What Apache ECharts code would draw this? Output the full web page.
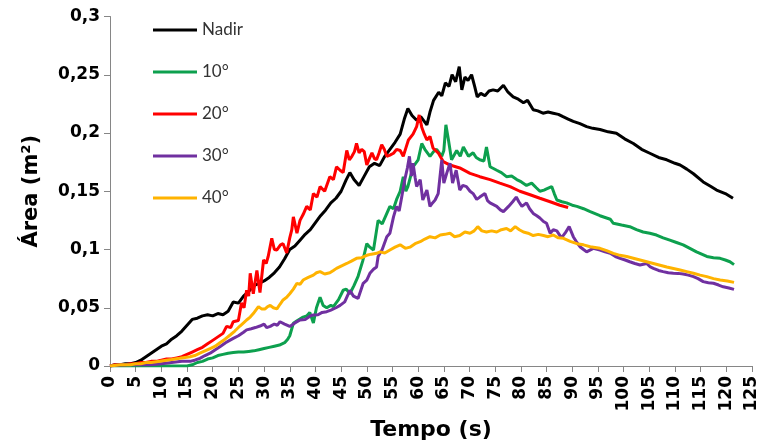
<!DOCTYPE html>
<html><head><meta charset="utf-8">
<script src="https://cdn.jsdelivr.net/npm/echarts@6/dist/echarts.min.js"></script>
<style>html,body{margin:0;padding:0;background:#fff}#c{width:761px;height:441px}</style>
</head><body><div id="c"></div>
<script>
const seriesNames = ['Nadir', '10°', '20°', '30°', '40°'];
const seriesColors = ['#000000', '#0DA04E', '#FF0000', '#7030A0', '#FFB300'];
const xTicks = {min: 0, max: 125, interval: 5};
const yTicks = {min: 0, max: 0.3, interval: 0.05};

const nadir = [[0,0],[1,0.001],[2,0.001],[3,0.002],[4,0.002],[5,0.003],[6,0.005],[7,0.008],[8,0.011],[9,0.014],[10,0.017],[11,0.019],[12,0.023],[13,0.026],[14,0.030],[15,0.035],[16,0.040],[17,0.041],[18,0.043],[19,0.044],[20,0.043],[21,0.045],[22,0.044],[23,0.047],[24,0.055],[25,0.054],[26,0.060],[27,0.064],[28,0.069],[29,0.071],[30,0.073],[31,0.076],[32,0.080],[33,0.085],[34,0.092],[35,0.100],[36,0.103],[37,0.108],[38,0.113],[39,0.117],[40,0.123],[41,0.129],[42,0.134],[43,0.140],[44,0.144],[45,0.150],[46,0.160],[46.7,0.166],[47.5,0.160],[48.5,0.155],[49.5,0.163],[50.5,0.171],[51.5,0.174],[52.5,0.172],[53.5,0.180],[54.5,0.186],[55.5,0.192],[56.5,0.199],[57.3,0.212],[58,0.221],[58.8,0.215],[59.7,0.211],[60.5,0.214],[61.7,0.207],[62.3,0.218],[63,0.228],[64,0.235],[64.6,0.232],[65.3,0.243],[66,0.240],[66.6,0.250],[67.3,0.244],[68,0.257],[68.5,0.237],[69.1,0.248],[69.7,0.245],[70.4,0.250],[71,0.240],[71.5,0.231],[72.2,0.234],[73,0.232],[73.8,0.236],[74.6,0.237],[75.5,0.236],[76.6,0.241],[77.5,0.235],[78.5,0.231],[79.5,0.229],[80.5,0.226],[81.3,0.228],[82.4,0.220],[83.3,0.219],[84.3,0.217],[85.3,0.218],[86.3,0.217],[87.3,0.216],[88.2,0.214],[89.2,0.212],[90.2,0.210],[91.5,0.208],[92.8,0.2055],[94,0.204],[95.4,0.203],[97,0.201],[98.6,0.1997],[100.2,0.195],[101.9,0.191],[103.5,0.186],[105.1,0.1826],[106.8,0.179],[108.4,0.177],[110,0.174],[111,0.1725],[112.3,0.169],[113.6,0.165],[115.5,0.158],[117,0.154],[118.1,0.151],[119.8,0.148],[121.3,0.144]];

const deg10 = [[0,0],[2,0],[4,0],[6,0],[8,0],[10,0],[12,0],[14,0],[15,0],[16,0.001],[17,0.003],[18,0.004],[19,0.006],[20,0.007],[21,0.009],[22,0.010],[23,0.011],[24,0.0115],[25,0.012],[26,0.012],[27,0.0125],[28,0.013],[29,0.014],[30,0.015],[31,0.016],[32,0.017],[33,0.018],[34,0.020],[34.6,0.023],[35,0.026],[35.7,0.0366],[36.5,0.039],[37.6,0.042],[38.3,0.043],[38.9,0.046],[39.6,0.037],[40.2,0.050],[40.9,0.059],[41.5,0.052],[42.2,0.050],[43,0.052],[43.5,0.051],[44.5,0.057],[45.4,0.065],[46,0.066],[46.7,0.062],[47.5,0.069],[48.3,0.077],[49.2,0.090],[50,0.105],[50.6,0.102],[51.3,0.0996],[52.2,0.125],[53,0.122],[53.9,0.131],[54.5,0.137],[55.2,0.135],[55.8,0.143],[56.5,0.150],[57.1,0.1625],[57.6,0.150],[58,0.154],[59,0.171],[60,0.177],[60.7,0.191],[61.3,0.186],[62.3,0.180],[63,0.184],[63.6,0.186],[64.6,0.180],[65,0.185],[65.4,0.207],[65.9,0.194],[66.5,0.177],[67.5,0.185],[68.2,0.180],[68.8,0.188],[69.8,0.180],[70.7,0.183],[71.3,0.179],[72,0.177],[72.8,0.176],[73.3,0.188],[74,0.171],[75.3,0.168],[76.2,0.166],[77.2,0.1625],[78.2,0.163],[79.2,0.160],[80.1,0.158],[81.1,0.155],[82.1,0.157],[83,0.153],[83.7,0.150],[84.5,0.151],[85,0.152],[86,0.154],[86.5,0.148],[87,0.1425],[88,0.141],[88.9,0.140],[90,0.138],[90.9,0.137],[92.2,0.135],[93.5,0.1325],[95.4,0.129],[97.4,0.126],[98,0.1225],[99.6,0.121],[101.2,0.1196],[102.5,0.117],[103.8,0.115],[105.1,0.114],[106.4,0.1124],[107.7,0.110],[109,0.108],[110.3,0.106],[111.6,0.104],[112.9,0.101],[114.2,0.098],[115.2,0.096],[116.2,0.094],[117.5,0.093],[118.8,0.0924],[119.8,0.091],[120.7,0.0895],[121.5,0.087]];

const deg20 = [[0,0],[1,0.001],[2,0.001],[3,0.001],[4,0.002],[5,0.002],[6,0.003],[7,0.003],[8,0.004],[9,0.004],[10,0.005],[11,0.006],[12,0.006],[13,0.007],[14,0.008],[15,0.010],[16,0.012],[17,0.014],[18,0.016],[19,0.019],[20,0.022],[21,0.025],[22,0.028],[22.7,0.034],[23.5,0.033],[24,0.038],[25,0.039],[25.6,0.054],[26.1,0.050],[26.6,0.065],[27,0.060],[27.3,0.0796],[27.9,0.062],[28.6,0.082],[29.2,0.063],[29.9,0.091],[30.4,0.088],[30.8,0.094],[31.5,0.1096],[32,0.100],[32.5,0.0996],[33.2,0.104],[33.7,0.105],[34.4,0.097],[35,0.110],[35.4,0.117],[35.7,0.128],[36.4,0.114],[37,0.125],[37.6,0.130],[38.3,0.137],[39,0.134],[39.6,0.148],[40.3,0.145],[40.9,0.154],[41.8,0.150],[42.8,0.1625],[43.5,0.160],[44.1,0.171],[44.8,0.168],[45.4,0.166],[46.1,0.185],[46.6,0.177],[47.1,0.180],[47.6,0.184],[48,0.191],[48.5,0.183],[49,0.186],[49.5,0.184],[50,0.1725],[50.5,0.178],[51,0.183],[51.5,0.178],[51.9,0.177],[52.4,0.183],[52.9,0.190],[53.4,0.186],[53.9,0.180],[54.5,0.181],[55.2,0.1826],[55.8,0.186],[56.5,0.185],[57.1,0.180],[57.6,0.187],[58.1,0.194],[59,0.199],[59.7,0.2054],[60.2,0.2155],[60.7,0.205],[61.2,0.199],[61.7,0.194],[62.3,0.197],[62.9,0.187],[63.9,0.183],[64.9,0.1754],[66.2,0.1725],[68.1,0.170],[70.1,0.1654],[72,0.1625],[74,0.160],[75.9,0.157],[77.9,0.154],[79.8,0.150],[81.8,0.147],[83.7,0.144],[85.7,0.141],[87.6,0.138],[89.2,0.136]];

const deg30 = [[0,0],[2,0.001],[4,0.001],[6,0.001],[8,0.001],[10,0.002],[12,0.003],[14,0.004],[15.6,0.004],[16.5,0.005],[17.5,0.0066],[18.5,0.009],[19.5,0.011],[20.5,0.014],[21.4,0.0166],[22.5,0.020],[23.3,0.022],[24,0.0237],[25,0.026],[26,0.029],[26.6,0.031],[27.5,0.032],[28.3,0.033],[29.2,0.0343],[30,0.036],[30.5,0.033],[31.2,0.034],[32,0.036],[32.6,0.035],[33.1,0.038],[34,0.036],[35,0.034],[36,0.037],[37,0.0395],[38,0.040],[39,0.043],[39.6,0.0438],[40.5,0.044],[41.3,0.046],[42.2,0.0466],[43,0.048],[44,0.050],[44.8,0.052],[45.7,0.055],[46.7,0.065],[47.4,0.060],[48.3,0.058],[49.3,0.071],[50,0.0738],[50.6,0.0796],[51.3,0.083],[51.9,0.085],[52.2,0.094],[53,0.100],[53.9,0.111],[54.5,0.114],[55.2,0.128],[55.8,0.137],[56.3,0.133],[56.8,0.145],[57.4,0.160],[57.9,0.170],[58.3,0.180],[58.7,0.163],[59,0.174],[59.4,0.162],[59.7,0.154],[60.4,0.160],[60.9,0.1425],[61.7,0.151],[62.3,0.137],[62.8,0.140],[63.3,0.1425],[63.9,0.148],[64.6,0.177],[65,0.157],[65.6,0.166],[66.2,0.174],[66.7,0.157],[67.4,0.168],[68.1,0.151],[68.7,0.155],[69.4,0.154],[70.1,0.150],[70.7,0.148],[71.4,0.143],[72,0.145],[73,0.148],[73.5,0.142],[74,0.140],[75.3,0.137],[76,0.134],[76.6,0.1325],[77.6,0.137],[78.4,0.141],[79.1,0.145],[79.6,0.141],[80.2,0.137],[81.1,0.140],[81.7,0.135],[82.4,0.131],[83.1,0.129],[83.7,0.127],[84.4,0.124],[85,0.1225],[85.7,0.114],[86.3,0.117],[87,0.116],[87.9,0.110],[88.6,0.114],[89.4,0.1196],[90.2,0.111],[90.9,0.106],[91.5,0.1024],[92.2,0.100],[92.8,0.098],[94.1,0.101],[95.4,0.0996],[96.4,0.098],[97.4,0.0967],[98.4,0.094],[99.3,0.0924],[100.3,0.091],[101.2,0.0895],[102.2,0.088],[103.2,0.0867],[104.5,0.088],[105.2,0.085],[105.8,0.0838],[106.8,0.082],[107.7,0.081],[108.7,0.080],[109.7,0.0796],[110.6,0.0795],[111.6,0.079],[112.6,0.078],[113.6,0.0767],[114.5,0.075],[115.5,0.0724],[116.5,0.0715],[117.5,0.071],[118.5,0.0695],[119.4,0.068],[120.5,0.067],[121.5,0.0658]];

const deg40 = [[0,0],[2,0.001],[4,0.001],[5,0.002],[6,0.002],[7,0.003],[8,0.003],[9.7,0.004],[11,0.005],[12,0.0055],[13.6,0.0066],[15.6,0.008],[16.5,0.009],[17.5,0.011],[18.5,0.013],[19.5,0.015],[20.5,0.017],[21.4,0.020],[22.4,0.023],[23.4,0.0266],[24.3,0.030],[25.3,0.0343],[26,0.037],[26.6,0.0395],[27.3,0.042],[27.9,0.045],[28.4,0.048],[28.9,0.051],[29.5,0.049],[30.2,0.049],[30.7,0.051],[31.2,0.052],[31.8,0.050],[32.5,0.049],[33.1,0.053],[33.7,0.0567],[34.4,0.059],[35,0.062],[35.7,0.066],[36.4,0.071],[37,0.070],[37.6,0.0738],[38.6,0.076],[39.6,0.078],[40.2,0.080],[40.9,0.081],[41.8,0.079],[42.8,0.080],[43.5,0.082],[44.1,0.0838],[45.1,0.086],[46.1,0.088],[47,0.090],[48,0.0924],[49,0.093],[50,0.095],[50.9,0.096],[51.9,0.0967],[52.6,0.098],[53.5,0.097],[54.5,0.0996],[55.5,0.102],[56.5,0.104],[57.5,0.101],[58.4,0.102],[59.4,0.105],[60.4,0.1067],[61.3,0.109],[62.3,0.111],[63.3,0.110],[64.3,0.1124],[65.2,0.113],[66.2,0.114],[67.1,0.111],[68.1,0.112],[69.1,0.115],[70.1,0.114],[70.9,0.116],[71.6,0.1196],[72.4,0.116],[73.3,0.115],[74.3,0.116],[75.3,0.115],[76.2,0.117],[77.2,0.118],[78,0.116],[78.9,0.1196],[79.7,0.117],[80.5,0.115],[81.4,0.114],[82.4,0.112],[83.4,0.113],[84.4,0.112],[85.3,0.111],[86.3,0.1124],[87.3,0.110],[88.3,0.1096],[89.6,0.107],[90.9,0.105],[92.2,0.104],[93.5,0.1024],[95.4,0.101],[96.7,0.099],[98,0.0967],[99.3,0.095],[100.6,0.094],[101.9,0.0925],[103.2,0.091],[104.5,0.0895],[105.8,0.088],[107.1,0.0865],[108.4,0.085],[109.7,0.0837],[111,0.0824],[112.3,0.081],[113.6,0.0796],[114.9,0.078],[116.2,0.0767],[117.5,0.075],[118.8,0.0738],[120.2,0.073],[121.5,0.0718]];

const allData = [nadir, deg10, deg20, deg30, deg40];
const bold = 'DejaVu Sans';
const chart = echarts.init(document.getElementById('c'), null, {renderer: 'canvas'});
chart.setOption({
  animation: false,
  backgroundColor: '#fff',
  grid: {left: 110, right: 9, top: 16.5, bottom: 75, containLabel: false, outerBoundsMode: 'none'},
  legend: {
    orient: 'vertical', left: 148, top: 16.5,
    icon: 'rect', itemWidth: 44, itemHeight: 3, itemGap: 25,
    textStyle: {fontFamily: 'Lato', fontSize: 17, color: '#333'},
    data: seriesNames
  },
  xAxis: {
    type: 'value', min: xTicks.min, max: xTicks.max, interval: xTicks.interval,
    name: 'Tempo (s)', nameLocation: 'middle', nameGap: 46,
    nameTextStyle: {fontFamily: bold, fontWeight: 'bold', fontSize: 22, color: '#000'},
    axisLine: {lineStyle: {color: '#868686', width: 1}},
    axisTick: {show: true, length: 6, lineStyle: {color: '#868686'}},
    splitLine: {show: false},
    axisLabel: {rotate: 90, margin: 10, fontFamily: bold, fontWeight: 'bold', fontSize: 17, color: '#000'}
  },
  yAxis: {
    type: 'value', min: yTicks.min, max: yTicks.max, interval: yTicks.interval,
    name: 'Área (m²)', nameLocation: 'middle', nameGap: 68, nameRotate: 90,
    nameTextStyle: {fontFamily: bold, fontWeight: 'bold', fontSize: 21, color: '#000'},
    axisLine: {show: true, lineStyle: {color: '#868686', width: 1}},
    axisTick: {show: true, length: 6, lineStyle: {color: '#868686'}},
    splitLine: {show: false},
    axisLabel: {margin: 10, fontFamily: bold, fontWeight: 'bold', fontSize: 17, color: '#000',
      formatter: v => String(+(+v).toFixed(2)).replace('.', ',')}
  },
  series: seriesNames.map((n, i) => ({
    name: n, type: 'line', data: allData[i], symbol: 'none', smooth: false,
    lineStyle: {color: seriesColors[i], width: 3},
    itemStyle: {color: seriesColors[i]}
  }))
});
</script></body></html>
